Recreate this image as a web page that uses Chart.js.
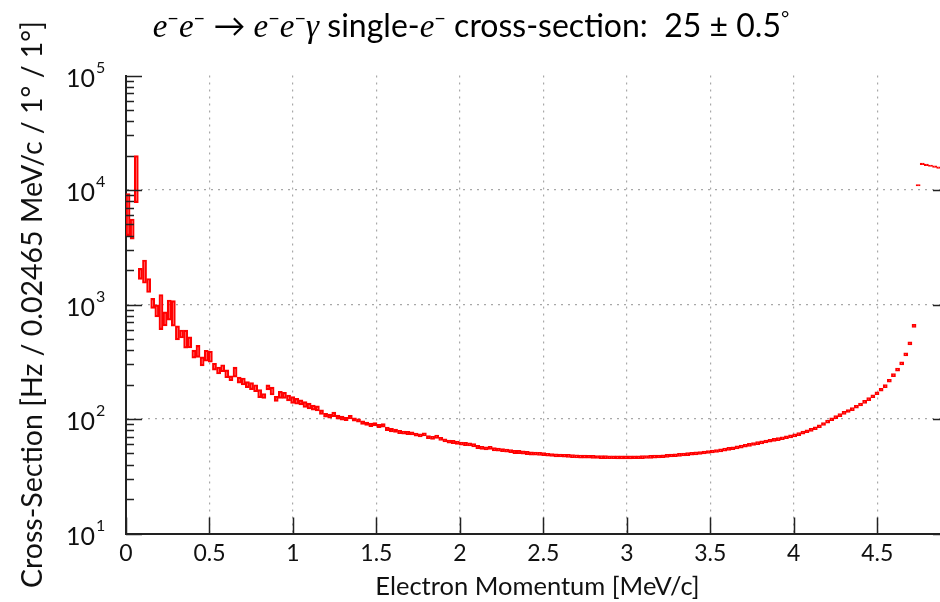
<!doctype html>
<html lang="en">
<head>
<meta charset="utf-8">
<script src="https://cdn.jsdelivr.net/npm/chart.js@4"></script>
<style>
  html, body { margin: 0; padding: 0; background: #fff; overflow: hidden; }
  #wrap { width: 960px; height: 602px; }
</style>
</head>
<body>
<div id="wrap"><canvas id="myChart" width="960" height="602"></canvas></div>

<script>
  // histogram bin width in MeV/c (bins start at 0)
  const binWidth = 0.02465;

  // cross-section per bin
  const xsec = [
    6650, 4650, 13850, 1865, 1990, 1480, 1028, 886, 913, 757,
    913, 864, 570, 554, 507, 470, 370, 392, 320, 359,
    352, 287, 266, 278, 249, 227, 258, 219, 213, 200,
    194, 186, 167, 159, 189, 176, 150, 163, 161, 153,
    147, 143, 140, 134, 130, 126, 124, 115, 108, 106,
    110, 104, 102, 100, 104, 99, 97, 93, 91, 89,
    90, 87, 88, 82, 80, 79, 77, 76, 75.5, 75,
    73, 72, 73.5, 69.5, 68.5, 70, 67, 65, 63.5, 63,
    62, 61, 60.5, 60, 59, 57, 56, 55.5, 56, 54.5,
    54, 53.5, 53, 52.5, 51.5, 51.5, 51, 50.5, 50, 49.8,
    49.6, 49.4, 48.8, 48.5, 48.2, 48, 47.8, 47.6, 47.4, 47.2,
    47, 46.9, 46.8, 46.7, 46.6, 46.5, 46.5, 46.4, 46.4, 46.3,
    46.3, 46.3, 46.3, 46.4, 46.4, 46.5, 46.6, 46.7, 46.9, 47.1,
    47.3, 47.6, 48, 48.3, 48.6, 49, 49.3, 49.7, 50.1, 50.5,
    51, 51.5, 52, 52.6, 53.3, 54, 54.8, 55.6, 56.5, 57.4,
    58.4, 59.4, 60.5, 61.5, 62.5, 63.6, 64.6, 65.7, 66.8, 68,
    69.3, 70.6, 72, 73.8, 76, 78.2, 80.5, 83, 86.5, 90.5,
    95, 99.5, 104, 108, 113, 117.5, 122, 128, 134, 141,
    149, 158, 168, 180, 194, 216, 242, 270, 306, 367,
    458, 650, 11000, 16900, 16600, 16300, 16000, 15700, 15400, 15100
  ];

  // relative error per bin (percent)
  const errPct = [
    40, 20, 44, 11, 23, 14, 10, 12, 34, 14,
    20, 25, 14, 8, 18, 11, 8, 12, 9, 11,
    11, 7, 7, 7, 8, 5, 10, 6, 7, 6,
    7, 7, 8, 5, 5, 8, 5, 7, 6, 6,
    7, 6, 5, 6, 6, 5, 5, 4.5, 4, 4,
    4.5, 4, 4, 3.5, 3.5, 3.5, 3.5, 3.5, 3.5, 3.5,
    3.5, 3.5, 3.5, 3.5, 3.5, 3.5, 3.2, 3.2, 3.2, 3.2,
    3.2, 3.2, 3.2, 3.2, 3.2, 3.2, 3.2, 3.2, 3.2, 3.2,
    3.2, 3.2, 3.2, 3.2, 3.2, 3.2, 3.2, 3.2, 3.2, 3.2,
    3.2, 3.2, 3.2, 3.2, 3.2, 3.2, 3.2, 3.2, 3.2, 3.2,
    3, 3, 3, 3, 3, 3, 3, 3, 3, 3,
    3, 3, 3, 3, 3, 3, 3, 3, 3, 3,
    3, 3, 3, 3, 3, 3, 3, 3, 3, 3,
    3, 3, 3, 3, 3, 3, 3, 3, 3, 3,
    3, 3, 3, 3, 3, 3, 3, 3, 3, 3,
    3, 3, 3, 3, 3, 3, 3, 3, 3, 3,
    3, 3, 3, 3, 3, 3, 3, 3, 3, 3,
    3, 3, 3, 3, 3, 3, 3, 3, 3, 3,
    3, 3, 3, 3, 3, 3, 3, 3, 3, 3,
    3, 3, 1.5, 1.5, 1.5, 1.5, 1.5, 1.5, 1.5, 1.5
  ];

  const xTicks = [0, 0.5, 1, 1.5, 2, 2.5, 3, 3.5, 4, 4.5];
  const yDecades = [10, 100, 1000, 10000, 100000];

  const titleParts = [
    ['e', 'it'], ['\u2212', 'sup'], ['e', 'it'], ['\u2212', 'sup'], [' \u2192 ', 'rm'],
    ['e', 'it'], ['\u2212', 'sup'], ['e', 'it'], ['\u2212', 'sup'], ['\u03b3', 'it'],
    [' single-', 'rm'], ['e', 'it'], ['\u2212', 'sup'], [' cross-section:  25 \u00b1 0.5', 'rm'],
    ['\u00b0', 'sup']
  ];

  const fonts = {
    rm: '32px Lato',
    it: 'italic 33px "Liberation Serif"',
    sup: '20px Lato'
  };

  const bins = xsec.map(function(v, i) {
    return {
      x: (i + 0.5) * binWidth,
      y: [v * (1 - errPct[i] / 100), v * (1 + errPct[i] / 100)]
    };
  });

  // title, inner tick marks and y labels
  const frame = {
    id: 'frame',
    afterDraw(chart) {
      const ctx = chart.ctx;
      const a = chart.chartArea;
      const x = chart.scales.x;
      const y = chart.scales.y;
      ctx.save();

      // title
      let w = 0;
      titleParts.forEach(function(p) {
        ctx.font = fonts[p[1]];
        w += ctx.measureText(p[0]).width;
      });
      let tx = 471 - w / 2;
      ctx.fillStyle = '#000';
      ctx.textBaseline = 'alphabetic';
      ctx.textAlign = 'left';
      titleParts.forEach(function(p) {
        ctx.font = fonts[p[1]];
        ctx.fillText(p[0], tx, p[1] === 'sup' ? 25 : 37);
        tx += ctx.measureText(p[0]).width;
      });

      // y tick marks, left and right
      ctx.strokeStyle = '#222';
      ctx.lineWidth = 1.5;
      ctx.beginPath();
      for (let d = 0; d < yDecades.length - 1; d++) {
        for (let k = 1; k <= 9; k++) {
          const py = Math.round(y.getPixelForValue(yDecades[d] * k)) + 0.5;
          const len = k === 1 ? 16 : 8;
          ctx.moveTo(a.left, py);
          ctx.lineTo(a.left + len, py);
          ctx.moveTo(a.right, py);
          ctx.lineTo(a.right - len, py);
        }
      }
      const ptop = Math.round(y.getPixelForValue(yDecades[yDecades.length - 1])) + 0.5;
      ctx.moveTo(a.left, ptop);
      ctx.lineTo(a.left + 16, ptop);
      // x tick marks
      xTicks.forEach(function(v) {
        const px = Math.round(x.getPixelForValue(v)) + 0.5;
        ctx.moveTo(px, a.bottom);
        ctx.lineTo(px, a.bottom - 16);
      });
      ctx.stroke();

      // y labels 10^n
      ctx.fillStyle = '#111';
      ctx.textBaseline = 'middle';
      yDecades.forEach(function(v) {
        const py = y.getPixelForValue(v);
        ctx.font = '25px Lato';
        ctx.textAlign = 'right';
        ctx.fillText('10', 95, py + 3);
        ctx.font = '16px Lato';
        ctx.textAlign = 'left';
        ctx.fillText(String(Math.round(Math.log10(v))), 96, py - 8);
      });
      ctx.restore();
    }
  };

  const canvas = document.getElementById('myChart');
  const chart = new Chart(canvas, {
    type: 'bar',
    data: {
      datasets: [{
        data: bins,
        backgroundColor: 'rgba(255, 0, 0, 0.22)',
        borderColor: 'rgb(255, 0, 0)',
        borderWidth: 1.5,
        borderSkipped: false,
        barPercentage: 1,
        categoryPercentage: 1
      }]
    },
    options: {
      responsive: false,
      animation: false,
      layout: { padding: { top: 75.5, right: 11, left: 0, bottom: 0 } },
      plugins: {
        legend: { display: false },
        title: { display: false },
        tooltip: { enabled: false }
      },
      scales: {
        x: {
          type: 'linear',
          min: 0,
          max: 200 * binWidth,
          offset: false,
          afterBuildTicks: function(s) { s.ticks = xTicks.map(v => ({ value: v })); },
          afterFit: function(s) { s.height = 68.5; },
          grid: { color: '#a8a8a8', lineWidth: 1.2, drawTicks: false, offset: false },
          border: { display: true, color: '#222', width: 2, dash: [2, 5] },
          ticks: {
            padding: 6,
            color: '#111',
            font: { family: 'Lato', size: 23 },
            maxRotation: 0,
            autoSkip: false,
            callback: function(v) { return String(v); }
          },
          title: {
            display: true,
            text: 'Electron Momentum [MeV/c]',
            color: '#111',
            font: { family: 'Lato', size: 25.5 },
            padding: { top: 0, bottom: 0 }
          }
        },
        y: {
          type: 'logarithmic',
          min: 10,
          max: 100000,
          afterBuildTicks: function(s) { s.ticks = yDecades.map(v => ({ value: v })); },
          afterFit: function(s) { s.width = 126; },
          grid: {
            color: function(c) { return c.tick && c.tick.value >= 100000 ? 'rgba(0,0,0,0)' : '#a8a8a8'; },
            lineWidth: 1.2,
            drawTicks: false
          },
          border: { display: true, color: '#222', width: 2, dash: [2, 5] },
          ticks: { display: false },
          title: {
            display: true,
            text: 'Cross-Section [Hz / 0.02465 MeV/c / 1\u00b0 / 1\u00b0]',
            color: '#111',
            font: { family: 'Lato', size: 28.5 },
            padding: { top: 16, bottom: 0 }
          }
        }
      }
    },
    plugins: [frame]
  });
</script>
</body>
</html>
